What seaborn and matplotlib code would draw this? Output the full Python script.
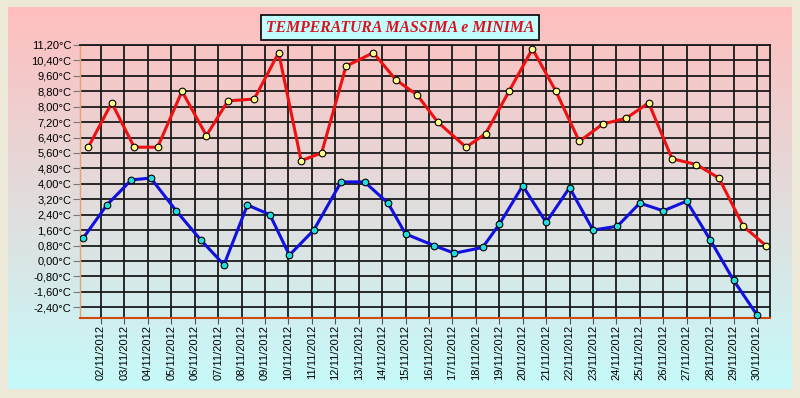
import numpy as np
import pandas as pd
import matplotlib
matplotlib.use("Agg")
import matplotlib.pyplot as plt
import matplotlib.dates as mdates
from matplotlib.ticker import FuncFormatter
import seaborn as sns

# giorni di novembre 2012 e ora (circa) della lettura
days = list(range(1, 31))
max_hours = [11, 11, 10, 10, 11, 12, 10, 13, 14, 13, 10, 11, 15, 14, 12,
             9, 14, 10, 10, 10, 10, 10, 10, 10, 9, 9, 10, 9, 10, 9]
min_hours = [6, 6, 7, 3, 5, 6, 6, 6, 5, 1, 2, 6, 6, 6, 0,
             5, 2, 7, 0, 0, 0, 0, 0, 1, 0, 0, 0, 0, 0, 0]
max_temp = [5.9, 8.2, 5.9, 5.9, 8.8, 6.5, 8.3, 8.4, 10.8, 5.2, 5.6, 10.1, 10.8, 9.4, 8.6,
            7.2, 5.9, 6.6, 8.8, 11.0, 8.8, 6.2, 7.1, 7.4, 8.2, 5.3, 5.0, 4.3, 1.8, 0.8]
min_temp = [1.2, 2.9, 4.2, 4.3, 2.6, 1.1, -0.2, 2.9, 2.4, 0.3, 1.6, 4.1, 4.1, 3.0, 1.4,
            0.8, 0.4, 0.7, 1.9, 3.9, 2.0, 3.8, 1.6, 1.8, 3.0, 2.6, 3.1, 1.1, -1.0, -2.8]
tick_days = list(range(2, 31))
title = "TEMPERATURA MASSIMA e MINIMA"


def stamps(hours):
    return [pd.Timestamp(2012, 11, d) + pd.Timedelta(hours=h) for d, h in zip(days, hours)]


df_max = pd.DataFrame({"ora": stamps(max_hours), "temp": max_temp})
df_min = pd.DataFrame({"ora": stamps(min_hours), "temp": min_temp})

plt.rcParams["font.family"] = ["Liberation Sans", "DejaVu Sans"]

fig = plt.figure(figsize=(8, 3.98), dpi=100)
fig.patch.set_facecolor("#ECE9D8")

# pannello con sfumatura rosa -> azzurro
bg = fig.add_axes([8 / 800, 1 - 389 / 398, 784 / 800, 382 / 398], zorder=0)
top = np.array([255, 190, 190]) / 255
bot = np.array([198, 250, 250]) / 255
t = np.linspace(0, 1, 256)[:, None, None]
grad = top * (1 - t) + bot * t
bg.imshow(grad, aspect="auto", extent=[0, 1, 0, 1])
bg.set_axis_off()

ax = fig.add_axes([80 / 800, 1 - 318 / 398, 690 / 800, 273 / 398], zorder=1)
ax.patch.set_alpha(0)

sns.lineplot(data=df_max, x="ora", y="temp", ax=ax, color="#EE1111", lw=2.2,
             marker="o", markersize=4.8, markerfacecolor="#FFFF88",
             markeredgecolor="black", markeredgewidth=0.8, estimator=None, sort=False, zorder=5)
sns.lineplot(data=df_min, x="ora", y="temp", ax=ax, color="#1010E0", lw=2.2,
             marker="o", markersize=4.8, markerfacecolor="#22DDDD",
             markeredgecolor="black", markeredgewidth=0.8, estimator=None, sort=False, zorder=5)

ax.set_xlim(pd.Timestamp(2012, 11, 1, 2, 30), pd.Timestamp(2012, 11, 30, 13, 20))
ax.set_ylim(-2.96, 11.2)

ax.set_xticks([pd.Timestamp(2012, 11, d) for d in tick_days])
ax.xaxis.set_major_formatter(mdates.DateFormatter("%d/%m/%Y"))
ax.set_yticks(np.round(np.arange(-2.4, 11.3, 0.8), 2))
ax.yaxis.set_major_formatter(FuncFormatter(lambda v, p: f"{v:.2f}".replace(".", ",") + "°C"))

ax.tick_params(axis="x", rotation=90, labelsize=8, length=4, width=0.8, color="#555555", pad=1)
ax.tick_params(axis="y", labelsize=8, length=5, width=0.8, color="#777777", pad=1)
ax.set_xlabel("")
ax.set_ylabel("")

ax.grid(True, color="#1A1A1A", lw=1.3)
ax.set_axisbelow(True)
for s in ["top", "right"]:
    ax.spines[s].set_color("#1A1A1A")
    ax.spines[s].set_linewidth(1.3)
ax.spines["left"].set_color("#E8A070")
ax.spines["bottom"].set_color("#D04A10")
ax.spines["left"].set_linewidth(1.0)
ax.spines["bottom"].set_linewidth(1.5)

fig.text(0.5, 1 - 27.5 / 398, title, ha="center", va="center", fontsize=11.3,
         family="Liberation Serif", style="italic", weight="bold", color="#D8121E",
         bbox=dict(boxstyle="square,pad=0.3", facecolor="#C4FFFF", edgecolor="black", lw=1.2))

fig.savefig("out.png", dpi=100, facecolor=fig.get_facecolor())
